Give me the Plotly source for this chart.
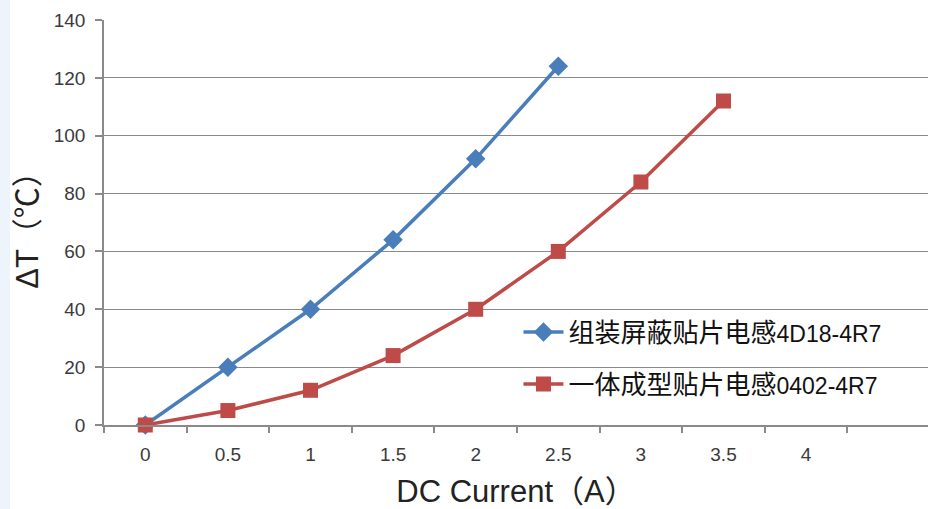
import plotly.graph_objects as go

# Temperature rise vs DC current for two 4.7uH SMD inductors
current_a = [0, 0.5, 1, 1.5, 2, 2.5]
rise_shielded = [0, 20, 40, 64, 92, 124]

current_b = [0, 0.5, 1, 1.5, 2, 2.5, 3, 3.5]
rise_molded = [0, 5, 12, 24, 40, 60, 84, 112]

x_ticks = [0, 0.5, 1, 1.5, 2, 2.5, 3, 3.5, 4]
x_tick_text = ["0", "0.5", "1", "1.5", "2", "2.5", "3", "3.5", "4"]
y_ticks = [0, 20, 40, 60, 80, 100, 120, 140]

SUFFIX = "<span style='font-size:23px;font-family:Liberation Sans'>{}</span>"
name_a = "组装屏蔽贴片电感" + SUFFIX.format("4D18-4R7")
name_b = "一体成型贴片电感" + SUFFIX.format("0402-4R7")

BLUE = "#4a7ebb"
RED = "#be4b48"
AXIS = "#8a8a8a"
FONT = "Liberation Sans, Arial, Noto Sans CJK SC, sans-serif"

fig = go.Figure()
fig.add_trace(go.Scatter(
    x=current_a, y=rise_shielded, name=name_a, mode="lines+markers",
    line=dict(color=BLUE, width=3.5),
    marker=dict(symbol="diamond", size=15, color=BLUE),
    legendgroup="a", cliponaxis=False,
))
fig.add_trace(go.Scatter(
    x=current_b, y=rise_molded, name=name_b, mode="lines+markers",
    line=dict(color=RED, width=3.5),
    marker=dict(symbol="square", size=15, color=RED),
    legendgroup="b", cliponaxis=False,
))

fig.update_layout(
    width=928, height=509,
    margin=dict(l=104, r=0, t=20, b=84),
    paper_bgcolor="white", plot_bgcolor="white",
    font=dict(family=FONT, color="#3a3a3a", size=19),
    showlegend=True,
    legend=dict(
        x=0.503, y=0.165, xanchor="left", yanchor="middle",
        bgcolor="rgba(0,0,0,0)",
        font=dict(family="Noto Sans CJK SC, sans-serif", size=26, color="#111111"),
        traceorder="grouped", tracegroupgap=15, itemwidth=40,
    ),
    xaxis=dict(
        range=[-0.25, 4.738],
        tickmode="array", tickvals=x_ticks, ticktext=x_tick_text,
        tickfont=dict(size=19),
        ticks="", ticklabelstandoff=11,
        showline=True, linecolor=AXIS, linewidth=1.5,
        showgrid=False, zeroline=False,
        minor=dict(tick0=0.25, dtick=0.5, ticks="outside", ticklen=6,
                   tickcolor=AXIS, tickwidth=1.5, showgrid=False),
        title=dict(text="DC Current（A）", standoff=18,
                   font=dict(family=FONT, size=31, color="#222222")),
    ),
    yaxis=dict(
        range=[0, 140],
        tickmode="array", tickvals=y_ticks,
        tickfont=dict(size=19),
        ticks="outside", ticklen=7, tickcolor=AXIS, tickwidth=1.5,
        ticklabelstandoff=6,
        showline=True, linecolor=AXIS, linewidth=1.5,
        showgrid=True, gridcolor=AXIS, gridwidth=1.2,
        zeroline=False,
        title=dict(text="ΔT（℃）", standoff=6,
                   font=dict(family=FONT, size=31, color="#222222")),
    ),
    shapes=[dict(
        type="rect", xref="paper", yref="paper",
        x0=-104 / 824, x1=-94 / 824, y0=-84 / 405, y1=489 / 405,
        fillcolor="#edf4fc", line=dict(width=0), layer="below",
    )],
)

fig.write_html("out.html")
